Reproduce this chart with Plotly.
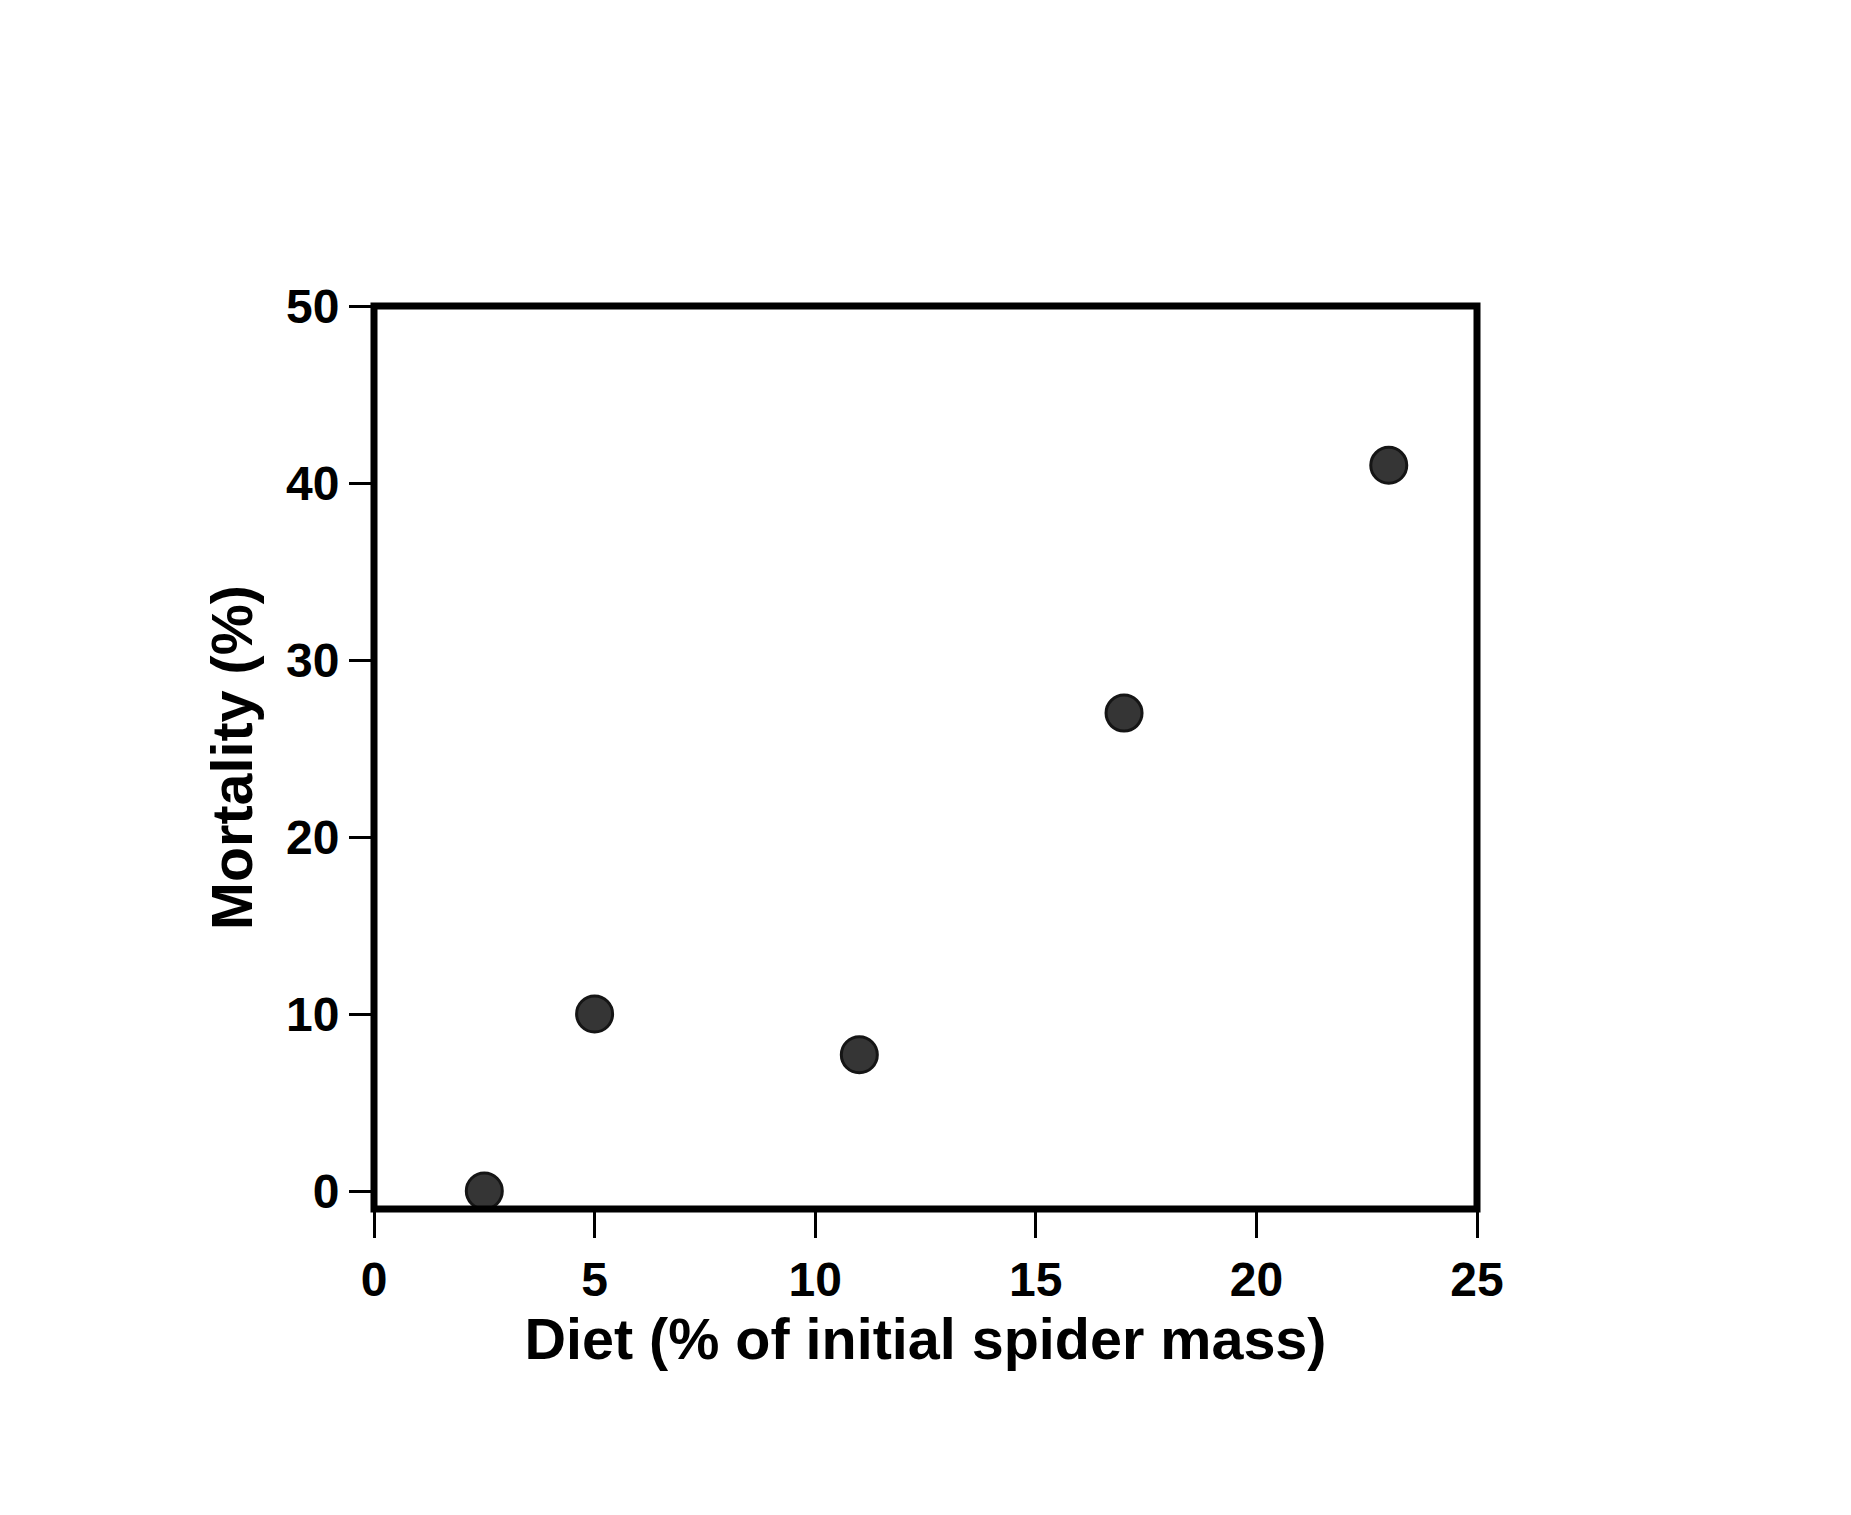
import plotly.graph_objects as go

diet = [2.5, 5, 11, 17, 23]
mortality = [0, 10, 7.7, 27, 41]
x_ticks = [0, 5, 10, 15, 20, 25]
y_ticks = [0, 10, 20, 30, 40, 50]

FONT = "Liberation Sans, Arial, Helvetica, sans-serif"

fig = go.Figure()
fig.add_trace(go.Scatter(
    x=diet, y=mortality, mode="markers",
    marker=dict(size=36, color="#353535", line=dict(color="#151515", width=3)),
    cliponaxis=False, showlegend=False,
))

fig.add_shape(type="rect", xref="x domain", yref="y domain",
              x0=0, x1=1, y0=0, y1=1, layer="above",
              line=dict(color="black", width=7), fillcolor="rgba(0,0,0,0)")

fig.update_layout(
    width=1851, height=1515,
    margin=dict(l=374, r=374, t=306, b=306, pad=0),
    paper_bgcolor="white", plot_bgcolor="white",
    font=dict(family=FONT, color="black"),
)
fig.update_xaxes(
    range=[0, 25], tickvals=x_ticks, ticktext=[str(v) for v in x_ticks],
    showgrid=False, zeroline=False, showline=False,
    ticks="outside", ticklen=28, tickwidth=3, tickcolor="black",
    tickfont=dict(size=48, family=FONT, weight="bold"),
    title=dict(text="Diet (% of initial spider mass)",
               font=dict(size=57.5, family=FONT, weight="bold"), standoff=14),
)
fig.update_yaxes(
    range=[-1.017, 50], tickvals=y_ticks, ticktext=[str(v) for v in y_ticks],
    showgrid=False, zeroline=False, showline=False,
    ticks="outside", ticklen=24, tickwidth=3, tickcolor="black",
    tickfont=dict(size=48, family=FONT, weight="bold"),
    title=dict(text="Mortality (%)",
               font=dict(size=57.5, family=FONT, weight="bold"), standoff=14),
)
fig.write_html("out.html")
